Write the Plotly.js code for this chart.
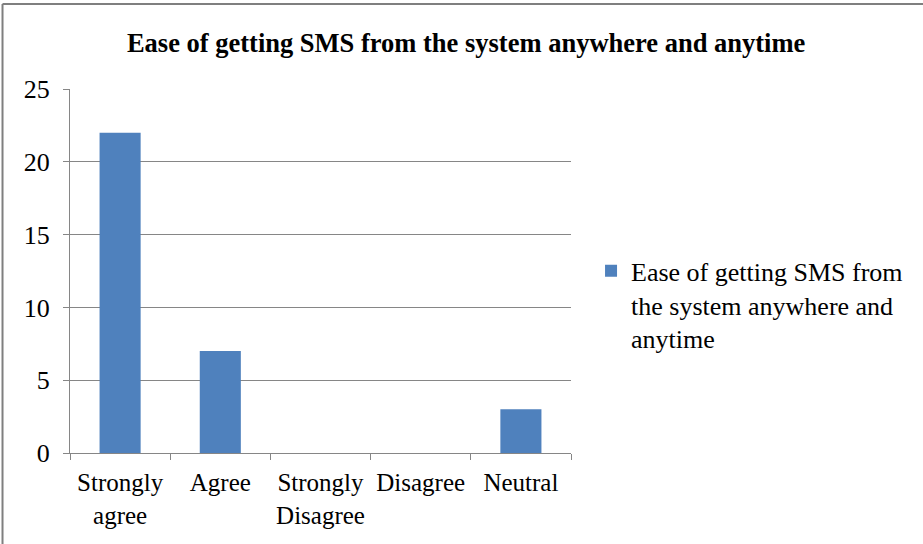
<!DOCTYPE html>
<html><head><meta charset="utf-8">
<script src="https://cdn.plot.ly/plotly-3.0.1.min.js"></script>
<style>html,body{margin:0;padding:0;background:#fff}#chart{width:923px;height:544px}</style>
</head><body><div id="chart"></div>
<script>
const categories = ["Strongly<br>agree", "Agree", "Strongly<br>Disagree", "Disagree", "Neutral"];
const values = [22, 7, 0, 0, 3];
const seriesName = "Ease of getting SMS from<br>the system anywhere and<br>anytime";
const chartTitle = "Ease of getting SMS from the system anywhere and anytime";
const yTicks = [0, 5, 10, 15, 20, 25];

const font = "Liberation Serif, Times New Roman, serif";
const trace = {
  type: "bar", x: categories, y: values, name: seriesName,
  marker: {color: "#4F81BD"}, showlegend: true
};
const layout = {
  width: 923, height: 544,
  margin: {l: 70, r: 352, t: 89, b: 91},
  paper_bgcolor: "#fff", plot_bgcolor: "#fff",
  font: {family: font, color: "#000", size: 25},
  title: {text: "<b>" + chartTitle + "</b>", font: {family: font, size: 26.5, color: "#000"},
          x: 0.505, xanchor: "center", y: 0.922, yanchor: "middle"},
  bargap: 0.59,
  xaxis: {type: "category", tickson: "boundaries", ticks: "outside", ticklen: 6,
          tickcolor: "#868686", showline: true, linecolor: "#868686", showgrid: false,
          tickfont: {size: 25, family: font}, ticklabelstandoff: 7, fixedrange: true},
  yaxis: {range: [0, 25], tickvals: yTicks, ticks: "outside", ticklen: 6, tickcolor: "#868686",
          showline: true, linecolor: "#868686", showgrid: true, gridcolor: "#868686",
          zeroline: false, tickfont: {size: 26, family: font}, ticklabelstandoff: 8},
  showlegend: true,
  legend: {x: 1.04, y: 0.407, xanchor: "left", yanchor: "middle", valign: "top",
           font: {size: 26, family: font}, itemwidth: 30, tracegroupgap: 0},
  shapes: [
    {type: "line", xref: "paper", yref: "paper", x0: -0.1347, x1: -0.1347, y0: -0.3, y1: 1.2335,
     line: {color: "#7f7f7f", width: 2}},
    {type: "line", xref: "paper", yref: "paper", x0: -0.1347, x1: 1.8, y0: 1.2335, y1: 1.2335,
     line: {color: "#7f7f7f", width: 2}}
  ]
};
Plotly.newPlot("chart", [trace], layout, {displayModeBar: false, staticPlot: true});
</script></body></html>
